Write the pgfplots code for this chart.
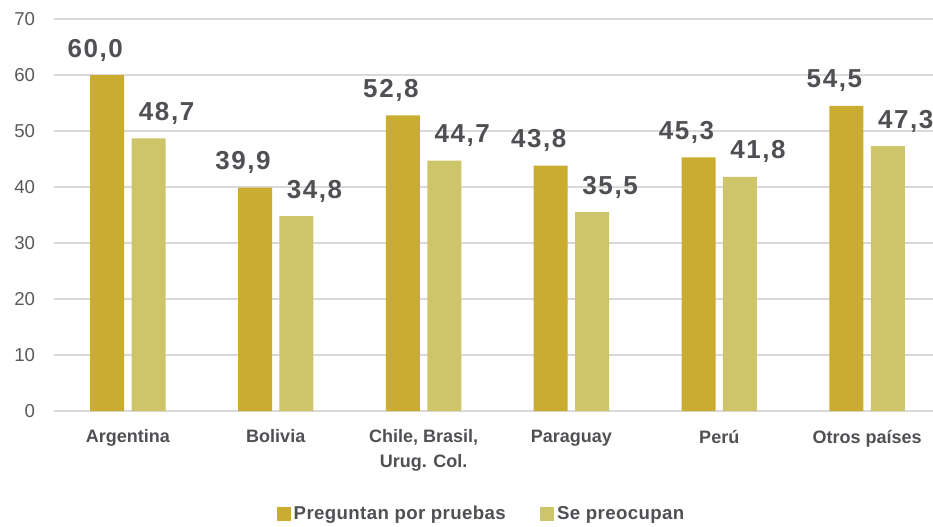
\documentclass[border=0pt]{standalone}
\usepackage{pgfplots}
\pgfplotsset{compat=1.18}
\usepackage{fontspec}
\setmainfont{Liberation Sans}
\newfontfamily\valfont[LetterSpace=6]{Liberation Sans}
\newfontfamily\legfont[LetterSpace=2]{Liberation Sans}
\definecolor{cdark}{RGB}{201,172,48}
\definecolor{clight}{RGB}{206,196,106}
\definecolor{ctext}{RGB}{78,80,84}
\definecolor{ctick}{RGB}{89,89,89}
\definecolor{cgrid}{RGB}{217,217,217}
\begin{document}
\begin{tikzpicture}
\useasboundingbox (0,0) rectangle (699.75pt,394.5pt);
\begin{axis}[
  at={(40.5pt,86.25pt)}, anchor=south west,
  scale only axis, width=665.25pt, height=294pt,
  xmin=-0.5, xmax=5.5, ymin=0, ymax=70,
  ytick={0,10,...,70},
  xtick={0,...,5},
  xticklabels={Argentina,Bolivia,{Chile, Brasil,\\Urug. Col.},Paraguay,Perú,Otros países},
  ymajorgrids, grid style={color=cgrid, line width=1.2pt},
  axis line style={draw=none},
  major tick length=0pt,
  /pgf/number format/assume math mode=true,
  yticklabel style={font=\fontsize{14}{16}\selectfont, color=ctick, anchor=east, inner sep=0pt, xshift=-14pt},
  xticklabel style={font=\bfseries\fontsize{13.5}{18.75}\selectfont, color=ctext, anchor=north, align=center, inner sep=0pt, yshift=-14pt},
  ybar, bar width=0.23,
  legend columns=2,
  legend style={at={(0.4825,-0.263)}, anchor=center, draw=none, fill=none,
    font=\legfont\bfseries\fontsize{14}{16}\selectfont, text=ctext,
    /tikz/every even column/.append style={column sep=24pt}},
  legend image code/.code={\fill[#1] (-3pt,-5pt) rectangle (7.5pt,5.5pt);},
  nodes near coords={\pgfmathprintnumber[fixed, fixed zerofill, precision=1, use comma]{\pgfplotspointmeta}},
]
\addplot[fill=cdark, draw=none, bar shift=-0.140,
  nodes near coords style={font=\valfont\bfseries\fontsize{19.5}{22}\selectfont, text=ctext, anchor=base, yshift=13.5pt, xshift=-9pt}]
  coordinates {(0,60.0) (1,39.9) (2,52.8) (3,43.8) (4,45.3) (5,54.5)};
\addplot[fill=clight, draw=none, bar shift=0.140,
  nodes near coords style={font=\valfont\bfseries\fontsize{19.5}{22}\selectfont, text=ctext, anchor=base, yshift=13.5pt, xshift=13.5pt}]
  coordinates {(0,48.7) (1,34.8) (2,44.7) (3,35.5) (4,41.8) (5,47.3)};
\legend{Preguntan por pruebas, Se preocupan}
\end{axis}
\end{tikzpicture}
\end{document}
